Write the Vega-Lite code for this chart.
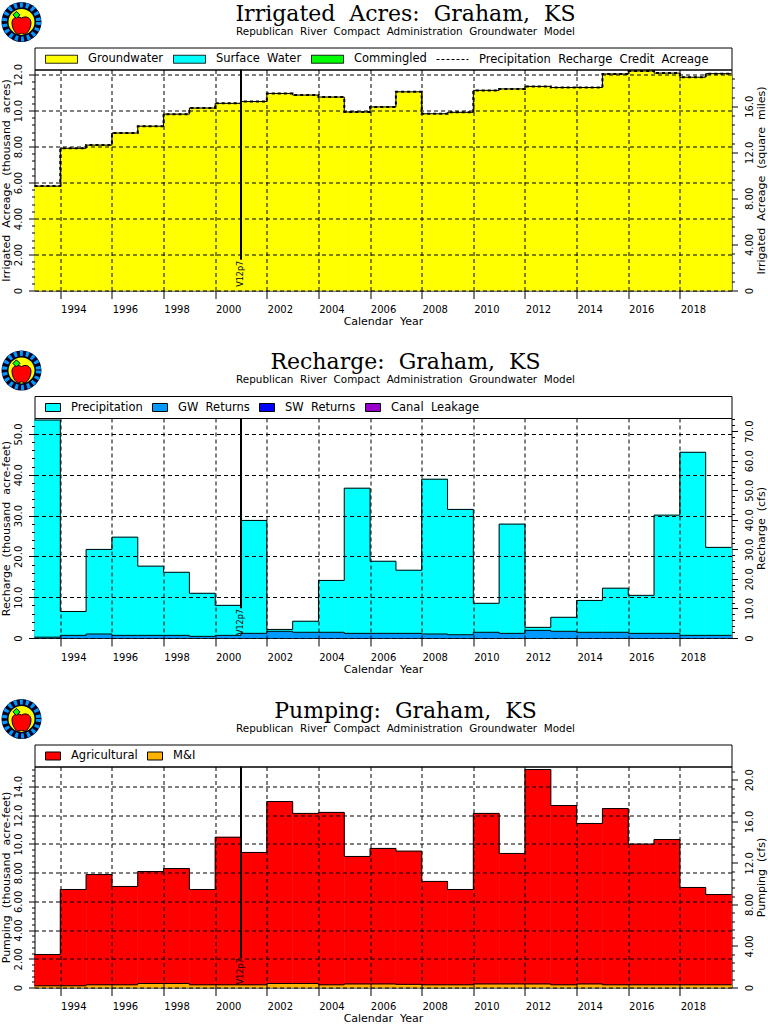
{
  "$schema": "https://vega.github.io/schema/vega-lite/v6.json",
  "background": "white",
  "padding": {"left": -6.5, "top": -6.5, "right": 0, "bottom": 0},
  "config": {
    "font": "DejaVu Sans",
    "view": {"stroke": "black", "strokeWidth": 1},
    "title": {"font": "DejaVu Serif", "fontSize": 22, "fontWeight": "normal", "color": "black", "subtitleFont": "DejaVu Sans", "subtitleFontSize": 10.4, "subtitleColor": "black", "subtitlePadding": 1},
    "axis": {"grid": true, "gridColor": "black", "gridDash": [4, 3], "gridOpacity": 1, "domain": false, "tickColor": "black", "labelColor": "black", "titleColor": "black", "labelFont": "DejaVu Sans", "titleFont": "DejaVu Sans", "labelFontSize": 10, "titleFontSize": 11, "titleFontWeight": "normal", "labelOverlap": false, "labelFlush": false, "labelBound": false},
    "legend": {"labelFont": "DejaVu Sans", "labelFontSize": 11.5, "labelColor": "black", "labelLimit": 400}
  },
  "datasets": {
    "irrigated": [
      {"year": 1993, "end": 1994, "source": "Groundwater", "kacres": 5.8},
      {"year": 1994, "end": 1995, "source": "Groundwater", "kacres": 7.9},
      {"year": 1995, "end": 1996, "source": "Groundwater", "kacres": 8.08},
      {"year": 1996, "end": 1997, "source": "Groundwater", "kacres": 8.75},
      {"year": 1997, "end": 1998, "source": "Groundwater", "kacres": 9.13},
      {"year": 1998, "end": 1999, "source": "Groundwater", "kacres": 9.8},
      {"year": 1999, "end": 2000, "source": "Groundwater", "kacres": 10.14},
      {"year": 2000, "end": 2001, "source": "Groundwater", "kacres": 10.4},
      {"year": 2001, "end": 2002, "source": "Groundwater", "kacres": 10.5},
      {"year": 2002, "end": 2003, "source": "Groundwater", "kacres": 10.95},
      {"year": 2003, "end": 2004, "source": "Groundwater", "kacres": 10.86},
      {"year": 2004, "end": 2005, "source": "Groundwater", "kacres": 10.75},
      {"year": 2005, "end": 2006, "source": "Groundwater", "kacres": 9.92},
      {"year": 2006, "end": 2007, "source": "Groundwater", "kacres": 10.2},
      {"year": 2007, "end": 2008, "source": "Groundwater", "kacres": 11.04},
      {"year": 2008, "end": 2009, "source": "Groundwater", "kacres": 9.82},
      {"year": 2009, "end": 2010, "source": "Groundwater", "kacres": 9.9},
      {"year": 2010, "end": 2011, "source": "Groundwater", "kacres": 11.12},
      {"year": 2011, "end": 2012, "source": "Groundwater", "kacres": 11.2},
      {"year": 2012, "end": 2013, "source": "Groundwater", "kacres": 11.34},
      {"year": 2013, "end": 2014, "source": "Groundwater", "kacres": 11.28},
      {"year": 2014, "end": 2015, "source": "Groundwater", "kacres": 11.28},
      {"year": 2015, "end": 2016, "source": "Groundwater", "kacres": 12.03},
      {"year": 2016, "end": 2017, "source": "Groundwater", "kacres": 12.2},
      {"year": 2017, "end": 2018, "source": "Groundwater", "kacres": 12.08},
      {"year": 2018, "end": 2019, "source": "Groundwater", "kacres": 11.85},
      {"year": 2019, "end": 2020, "source": "Groundwater", "kacres": 12.05}
    ],
    "credit": [
      {"year": 1993, "kacres": 5.8}, {"year": 1994, "kacres": 7.9}, {"year": 1995, "kacres": 8.08}, {"year": 1996, "kacres": 8.75},
      {"year": 1997, "kacres": 9.13}, {"year": 1998, "kacres": 9.8}, {"year": 1999, "kacres": 10.14}, {"year": 2000, "kacres": 10.4},
      {"year": 2001, "kacres": 10.5}, {"year": 2002, "kacres": 10.95}, {"year": 2003, "kacres": 10.86}, {"year": 2004, "kacres": 10.75},
      {"year": 2005, "kacres": 9.92}, {"year": 2006, "kacres": 10.2}, {"year": 2007, "kacres": 11.04}, {"year": 2008, "kacres": 9.82},
      {"year": 2009, "kacres": 9.9}, {"year": 2010, "kacres": 11.12}, {"year": 2011, "kacres": 11.2}, {"year": 2012, "kacres": 11.34},
      {"year": 2013, "kacres": 11.28}, {"year": 2014, "kacres": 11.28}, {"year": 2015, "kacres": 12.03}, {"year": 2016, "kacres": 12.2},
      {"year": 2017, "kacres": 12.08}, {"year": 2018, "kacres": 11.85}, {"year": 2019, "kacres": 12.05}, {"year": 2020, "kacres": 12.05}
    ],
    "recharge": [
      {"year": 1993, "end": 1994, "source": "GW Returns", "kaf": 0.2}, {"year": 1993, "end": 1994, "source": "Precipitation", "kaf": 53.2},
      {"year": 1994, "end": 1995, "source": "GW Returns", "kaf": 0.65}, {"year": 1994, "end": 1995, "source": "Precipitation", "kaf": 5.85},
      {"year": 1995, "end": 1996, "source": "GW Returns", "kaf": 0.98}, {"year": 1995, "end": 1996, "source": "Precipitation", "kaf": 20.72},
      {"year": 1996, "end": 1997, "source": "GW Returns", "kaf": 0.65}, {"year": 1996, "end": 1997, "source": "Precipitation", "kaf": 24.05},
      {"year": 1997, "end": 1998, "source": "GW Returns", "kaf": 0.65}, {"year": 1997, "end": 1998, "source": "Precipitation", "kaf": 16.95},
      {"year": 1998, "end": 1999, "source": "GW Returns", "kaf": 0.65}, {"year": 1998, "end": 1999, "source": "Precipitation", "kaf": 15.45},
      {"year": 1999, "end": 2000, "source": "GW Returns", "kaf": 0.4}, {"year": 1999, "end": 2000, "source": "Precipitation", "kaf": 10.55},
      {"year": 2000, "end": 2001, "source": "GW Returns", "kaf": 0.65}, {"year": 2000, "end": 2001, "source": "Precipitation", "kaf": 7.35},
      {"year": 2001, "end": 2002, "source": "GW Returns", "kaf": 1.14}, {"year": 2001, "end": 2002, "source": "Precipitation", "kaf": 27.66},
      {"year": 2002, "end": 2003, "source": "GW Returns", "kaf": 1.64}, {"year": 2002, "end": 2003, "source": "Precipitation", "kaf": 0.46},
      {"year": 2003, "end": 2004, "source": "GW Returns", "kaf": 1.4}, {"year": 2003, "end": 2004, "source": "Precipitation", "kaf": 2.7},
      {"year": 2004, "end": 2005, "source": "GW Returns", "kaf": 1.4}, {"year": 2004, "end": 2005, "source": "Precipitation", "kaf": 12.7},
      {"year": 2005, "end": 2006, "source": "GW Returns", "kaf": 1.14}, {"year": 2005, "end": 2006, "source": "Precipitation", "kaf": 35.56},
      {"year": 2006, "end": 2007, "source": "GW Returns", "kaf": 1.14}, {"year": 2006, "end": 2007, "source": "Precipitation", "kaf": 17.66},
      {"year": 2007, "end": 2008, "source": "GW Returns", "kaf": 1.14}, {"year": 2007, "end": 2008, "source": "Precipitation", "kaf": 15.46},
      {"year": 2008, "end": 2009, "source": "GW Returns", "kaf": 0.98}, {"year": 2008, "end": 2009, "source": "Precipitation", "kaf": 37.92},
      {"year": 2009, "end": 2010, "source": "GW Returns", "kaf": 0.8}, {"year": 2009, "end": 2010, "source": "Precipitation", "kaf": 30.7},
      {"year": 2010, "end": 2011, "source": "GW Returns", "kaf": 1.4}, {"year": 2010, "end": 2011, "source": "Precipitation", "kaf": 7.1},
      {"year": 2011, "end": 2012, "source": "GW Returns", "kaf": 1.14}, {"year": 2011, "end": 2012, "source": "Precipitation", "kaf": 26.76},
      {"year": 2012, "end": 2013, "source": "GW Returns", "kaf": 1.87}, {"year": 2012, "end": 2013, "source": "Precipitation", "kaf": 0.73},
      {"year": 2013, "end": 2014, "source": "GW Returns", "kaf": 1.64}, {"year": 2013, "end": 2014, "source": "Precipitation", "kaf": 3.43},
      {"year": 2014, "end": 2015, "source": "GW Returns", "kaf": 1.4}, {"year": 2014, "end": 2015, "source": "Precipitation", "kaf": 7.8},
      {"year": 2015, "end": 2016, "source": "GW Returns", "kaf": 1.4}, {"year": 2015, "end": 2016, "source": "Precipitation", "kaf": 10.8},
      {"year": 2016, "end": 2017, "source": "GW Returns", "kaf": 1.14}, {"year": 2016, "end": 2017, "source": "Precipitation", "kaf": 9.31},
      {"year": 2017, "end": 2018, "source": "GW Returns", "kaf": 1.14}, {"year": 2017, "end": 2018, "source": "Precipitation", "kaf": 28.96},
      {"year": 2018, "end": 2019, "source": "GW Returns", "kaf": 0.65}, {"year": 2018, "end": 2019, "source": "Precipitation", "kaf": 44.85},
      {"year": 2019, "end": 2020, "source": "GW Returns", "kaf": 0.65}, {"year": 2019, "end": 2020, "source": "Precipitation", "kaf": 21.55}
    ],
    "pumping": [
      {"year": 1993, "end": 1994, "source": "M&I", "kaf": 0.12}, {"year": 1993, "end": 1994, "source": "Agricultural", "kaf": 2.18},
      {"year": 1994, "end": 1995, "source": "M&I", "kaf": 0.12}, {"year": 1994, "end": 1995, "source": "Agricultural", "kaf": 6.71},
      {"year": 1995, "end": 1996, "source": "M&I", "kaf": 0.19}, {"year": 1995, "end": 1996, "source": "Agricultural", "kaf": 7.68},
      {"year": 1996, "end": 1997, "source": "M&I", "kaf": 0.19}, {"year": 1996, "end": 1997, "source": "Agricultural", "kaf": 6.85},
      {"year": 1997, "end": 1998, "source": "M&I", "kaf": 0.28}, {"year": 1997, "end": 1998, "source": "Agricultural", "kaf": 7.8},
      {"year": 1998, "end": 1999, "source": "M&I", "kaf": 0.28}, {"year": 1998, "end": 1999, "source": "Agricultural", "kaf": 8.01},
      {"year": 1999, "end": 2000, "source": "M&I", "kaf": 0.19}, {"year": 1999, "end": 2000, "source": "Agricultural", "kaf": 6.64},
      {"year": 2000, "end": 2001, "source": "M&I", "kaf": 0.19}, {"year": 2000, "end": 2001, "source": "Agricultural", "kaf": 10.28},
      {"year": 2001, "end": 2002, "source": "M&I", "kaf": 0.19}, {"year": 2001, "end": 2002, "source": "Agricultural", "kaf": 9.22},
      {"year": 2002, "end": 2003, "source": "M&I", "kaf": 0.28}, {"year": 2002, "end": 2003, "source": "Agricultural", "kaf": 12.68},
      {"year": 2003, "end": 2004, "source": "M&I", "kaf": 0.28}, {"year": 2003, "end": 2004, "source": "Agricultural", "kaf": 11.85},
      {"year": 2004, "end": 2005, "source": "M&I", "kaf": 0.19}, {"year": 2004, "end": 2005, "source": "Agricultural", "kaf": 12.01},
      {"year": 2005, "end": 2006, "source": "M&I", "kaf": 0.25}, {"year": 2005, "end": 2006, "source": "Agricultural", "kaf": 8.88},
      {"year": 2006, "end": 2007, "source": "M&I", "kaf": 0.25}, {"year": 2006, "end": 2007, "source": "Agricultural", "kaf": 9.44},
      {"year": 2007, "end": 2008, "source": "M&I", "kaf": 0.22}, {"year": 2007, "end": 2008, "source": "Agricultural", "kaf": 9.28},
      {"year": 2008, "end": 2009, "source": "M&I", "kaf": 0.19}, {"year": 2008, "end": 2009, "source": "Agricultural", "kaf": 7.2},
      {"year": 2009, "end": 2010, "source": "M&I", "kaf": 0.19}, {"year": 2009, "end": 2010, "source": "Agricultural", "kaf": 6.64},
      {"year": 2010, "end": 2011, "source": "M&I", "kaf": 0.25}, {"year": 2010, "end": 2011, "source": "Agricultural", "kaf": 11.88},
      {"year": 2011, "end": 2012, "source": "M&I", "kaf": 0.25}, {"year": 2011, "end": 2012, "source": "Agricultural", "kaf": 9.09},
      {"year": 2012, "end": 2013, "source": "M&I", "kaf": 0.25}, {"year": 2012, "end": 2013, "source": "Agricultural", "kaf": 14.94},
      {"year": 2013, "end": 2014, "source": "M&I", "kaf": 0.19}, {"year": 2013, "end": 2014, "source": "Agricultural", "kaf": 12.49},
      {"year": 2014, "end": 2015, "source": "M&I", "kaf": 0.25}, {"year": 2014, "end": 2015, "source": "Agricultural", "kaf": 11.18},
      {"year": 2015, "end": 2016, "source": "M&I", "kaf": 0.19}, {"year": 2015, "end": 2016, "source": "Agricultural", "kaf": 12.28},
      {"year": 2016, "end": 2017, "source": "M&I", "kaf": 0.19}, {"year": 2016, "end": 2017, "source": "Agricultural", "kaf": 9.8},
      {"year": 2017, "end": 2018, "source": "M&I", "kaf": 0.19}, {"year": 2017, "end": 2018, "source": "Agricultural", "kaf": 10.12},
      {"year": 2018, "end": 2019, "source": "M&I", "kaf": 0.19}, {"year": 2018, "end": 2019, "source": "Agricultural", "kaf": 6.78},
      {"year": 2019, "end": 2020, "source": "M&I", "kaf": 0.19}, {"year": 2019, "end": 2020, "source": "Agricultural", "kaf": 6.29}
    ],
    "logoCenter": [{"x": 1992.496, "y": 47.6}],
    "logoApple": [{"x": 1992.496, "y": 44.8}],
    "logoLeaf": [{"x": 1992.3, "y": 54.6}],
    "irrigatedLegend": [{"series": "Groundwater"}, {"series": "Surface \u00a0Water"}, {"series": "Commingled"}, {"series": "Precipitation \u00a0Recharge \u00a0Credit \u00a0Acreage"}],
    "rechargeLegend": [{"series": "Precipitation"}, {"series": "GW \u00a0Returns"}, {"series": "SW \u00a0Returns"}, {"series": "Canal \u00a0Leakage"}],
    "pumpingLegend": [{"series": "Agricultural"}, {"series": "M&I"}]
  },
  "bounds": "flush",
  "spacing": 348.5,
  "resolve": {"scale": {"color": "independent", "stroke": "independent"}},
  "vconcat": [
    {
      "bounds": "flush",
      "spacing": 0,
      "resolve": {"scale": {"color": "independent", "stroke": "independent"}},
      "vconcat": [
        {
          "width": 697,
          "height": 22,
          "title": {"text": "Irrigated \u00a0Acres: \u00a0Graham, \u00a0KS", "subtitle": "Republican \u00a0River \u00a0Compact \u00a0Administration \u00a0Groundwater \u00a0Model", "anchor": "middle", "dx": 22.5, "offset": -43},
          "layer": [
            {
              "data": {"name": "irrigatedLegend"},
              "mark": {"type": "bar", "opacity": 0, "stroke": "black"},
              "encoding": {
                "color": {
                  "field": "series",
                  "scale": {"domain": ["Groundwater", "Surface \u00a0Water", "Commingled", "Precipitation \u00a0Recharge \u00a0Credit \u00a0Acreage"], "range": ["#ffff00", "#00ffff", "#00ff00", "transparent"]},
                  "legend": {
                    "title": null, "orient": "none", "legendX": 10.5, "legendY": -5, "direction": "horizontal", "columns": 4, "padding": 0, "columnPadding": 7, "labelOffset": 10,
                    "symbolSize": 1024, "symbolOpacity": 1, "symbolStrokeColor": "black", "symbolStrokeWidth": 1,
                    "encode": {"symbols": {"update": {
                      "shape": {"signal": "indexof(datum.value, 'Credit') >= 0 ? 'M-1,0H1' : 'M-1,-0.25H1V0.25H-1Z'"},
                      "strokeDash": {"signal": "indexof(datum.value, 'Credit') >= 0 ? [3, 2] : [1, 0]"}
                    }}}
                  }
                }
              }
            },
            {"data": {"name": "logoCenter"}, "mark": {"type": "point", "shape": "circle", "filled": true, "size": 1600, "color": "#000022", "opacity": 1}, "encoding": {"x": {"field": "x", "type": "quantitative", "axis": null, "scale": {"domain": [1993, 2020], "nice": false, "zero": false}}, "y": {"field": "y", "type": "quantitative", "axis": null, "scale": {"domain": [0, 22], "nice": false}}}},
            {"data": {"name": "logoCenter"}, "mark": {"type": "point", "shape": "circle", "filled": false, "size": 1156, "color": "#0099ff", "strokeWidth": 5, "strokeDash": [3, 3], "opacity": 1}, "encoding": {"x": {"field": "x", "type": "quantitative"}, "y": {"field": "y", "type": "quantitative"}}},
            {"data": {"name": "logoCenter"}, "mark": {"type": "point", "shape": "circle", "filled": true, "size": 676, "color": "#ffff00", "opacity": 1}, "encoding": {"x": {"field": "x", "type": "quantitative"}, "y": {"field": "y", "type": "quantitative"}}},
            {"data": {"name": "logoApple"}, "mark": {"type": "point", "shape": "M0,-0.7C0.5,-1,1,-0.7,1,-0.2C1,0.4,0.6,1,0.3,1C0.15,1,0.1,0.9,0,0.9C-0.1,0.9,-0.15,1,-0.3,1C-0.6,1,-1,0.4,-1,-0.2C-1,-0.7,-0.5,-1,0,-0.7Z", "filled": true, "size": 361, "fill": "#ff0000", "stroke": "black", "strokeWidth": 1, "opacity": 1}, "encoding": {"x": {"field": "x", "type": "quantitative"}, "y": {"field": "y", "type": "quantitative"}}},
            {"data": {"name": "logoLeaf"}, "mark": {"type": "point", "shape": "diamond", "filled": true, "size": 50, "fill": "#00ff00", "stroke": "black", "strokeWidth": 1, "opacity": 1}, "encoding": {"x": {"field": "x", "type": "quantitative"}, "y": {"field": "y", "type": "quantitative"}}}
          ]
        },
        {
          "width": 697,
          "height": 221,
          "resolve": {"scale": {"y": "independent"}},
          "layer": [
            {
              "data": {"name": "irrigated"},
              "mark": {"type": "rect", "strokeWidth": 0.6},
              "encoding": {
                "x": {"field": "year", "type": "quantitative", "scale": {"domain": [1993, 2020], "nice": false, "zero": false},
                  "axis": {"zindex": 1, "title": "Calendar \u00a0Year", "values": [1994,1995,1996,1997,1998,1999,2000,2001,2002,2003,2004,2005,2006,2007,2008,2009,2010,2011,2012,2013,2014,2015,2016,2017,2018,2019], "labelExpr": "datum.value % 2 == 0 ? '' + datum.value : ''", "labelOffset": 13, "labelAngle": 0, "labelAlign": "center", "tickSize": 8, "labelPadding": 6, "titlePadding": 1}},
                "x2": {"field": "end"},
                "y": {"field": "kacres", "type": "quantitative", "scale": {"domain": [0, 12.28], "nice": false},
                  "axis": {"zindex": 1, "title": "Irrigated \u00a0Acreage \u00a0(thousand \u00a0acres)", "orient": "left", "values": [0,0.4,0.8,1.2,1.6,2,2.4,2.8,3.2,3.6,4,4.4,4.8,5.2,5.6,6,6.4,6.8,7.2,7.6,8,8.4,8.8,9.2,9.6,10,10.4,10.8,11.2,11.6,12],
                    "labelExpr": "datum.value % 2 == 0 ? (datum.value == 0 ? '0' : format(datum.value, '.3r')) : ''", "labelAngle": 270, "labelAlign": "center", "labelBaseline": "bottom", "labelPadding": 5, "titlePadding": 2,
                    "tickSize": {"condition": {"test": "datum.value % 2 == 0", "value": 6}, "value": 3},
                    "gridOpacity": {"condition": {"test": "datum.value % 2 == 0", "value": 1}, "value": 0}}},
                "y2": {"datum": 0},
                "color": {"field": "source", "legend": null, "scale": {"domain": ["Groundwater"], "range": ["#ffff00"]}},
                "stroke": {"field": "source", "legend": null, "scale": {"domain": ["Groundwater"], "range": ["#ffff00"]}}
              }
            },
            {
              "data": {"name": "irrigated"},
              "transform": [{"fold": ["year", "end"], "as": ["edge", "at_year"]}],
              "mark": {"type": "line", "color": "black", "strokeWidth": 1},
              "encoding": {
                "x": {"field": "at_year", "type": "quantitative"},
                "y": {"field": "kacres", "type": "quantitative", "axis": null, "scale": {"domain": [0, 12.28], "nice": false}},
                "order": null
              }
            },
            {
              "data": {"name": "credit"},
              "mark": {"type": "line", "interpolate": "step-after", "color": "black", "strokeWidth": 2, "strokeDash": [3, 3]},
              "encoding": {
                "x": {"field": "year", "type": "quantitative"},
                "y": {"field": "kacres", "type": "quantitative", "axis": null, "scale": {"domain": [0, 12.28], "nice": false}}
              }
            },
            {
              "data": {"values": [{"year": 2001, "top": 12.28, "bottom": 1.71}]},
              "mark": {"type": "rule", "color": "black", "strokeWidth": 2},
              "encoding": {
                "x": {"field": "year", "type": "quantitative"},
                "y": {"field": "top", "type": "quantitative", "axis": null, "scale": {"domain": [0, 12.28], "nice": false}},
                "y2": {"field": "bottom"}
              }
            },
            {
              "data": {"values": [{"year": 2001, "at": 0.21, "label": "V12p7"}]},
              "mark": {"type": "text", "angle": 270, "align": "left", "baseline": "middle", "fontSize": 8, "color": "black"},
              "encoding": {
                "x": {"field": "year", "type": "quantitative"},
                "y": {"field": "at", "type": "quantitative", "axis": null, "scale": {"domain": [0, 12.28], "nice": false}},
                "text": {"field": "label"}
              }
            },
            {
              "data": {"values": [{"sq_mi": 0}, {"sq_mi": 19.19}]},
              "mark": {"type": "rule", "opacity": 0},
              "encoding": {
                "y": {"field": "sq_mi", "type": "quantitative", "scale": {"domain": [0, 19.19], "nice": false},
                  "axis": {"zindex": 1, "title": "Irrigated \u00a0Acreage \u00a0(square \u00a0miles)", "orient": "right", "grid": false, "values": [0,0.8,1.6,2.4,3.2,4,4.8,5.6,6.4,7.2,8,8.8,9.6,10.4,11.2,12,12.8,13.6,14.4,15.2,16,16.8,17.6,18.4],
                    "labelExpr": "datum.value % 4 == 0 ? (datum.value == 0 ? '0' : format(datum.value, '.3r')) : ''", "labelAngle": 270, "labelAlign": "center", "labelBaseline": "top", "labelPadding": 7, "titlePadding": 1, "titleAngle": 270, "titleBaseline": "top",
                    "tickSize": {"condition": {"test": "datum.value % 4 == 0", "value": 6}, "value": 3}}}
              }
            }
          ]
        }
      ]
    },
    {
      "bounds": "flush",
      "spacing": 0,
      "resolve": {"scale": {"color": "independent", "stroke": "independent"}},
      "vconcat": [
        {
          "width": 697,
          "height": 22,
          "title": {"text": "Recharge: \u00a0Graham, \u00a0KS", "subtitle": "Republican \u00a0River \u00a0Compact \u00a0Administration \u00a0Groundwater \u00a0Model", "anchor": "middle", "dx": 22.5, "offset": -43},
          "layer": [
            {
              "data": {"name": "rechargeLegend"},
              "mark": {"type": "bar", "opacity": 0, "stroke": "black"},
              "encoding": {
                "color": {
                  "field": "series",
                  "scale": {"domain": ["Precipitation", "GW \u00a0Returns", "SW \u00a0Returns", "Canal \u00a0Leakage"], "range": ["#00ffff", "#0099ff", "#0000ff", "#9900cc"]},
                  "legend": {
                    "title": null, "orient": "none", "legendX": 10.5, "legendY": 3.5, "direction": "horizontal", "columns": 4, "padding": 0, "columnPadding": 7, "labelOffset": 10,
                    "symbolSize": 225, "symbolOpacity": 1, "symbolStrokeColor": "black", "symbolStrokeWidth": 1, "symbolType": "M-1,-0.533H1V0.533H-1Z"
                  }
                }
              }
            },
            {"data": {"name": "logoCenter"}, "mark": {"type": "point", "shape": "circle", "filled": true, "size": 1600, "color": "#000022", "opacity": 1}, "encoding": {"x": {"field": "x", "type": "quantitative", "axis": null, "scale": {"domain": [1993, 2020], "nice": false, "zero": false}}, "y": {"field": "y", "type": "quantitative", "axis": null, "scale": {"domain": [0, 22], "nice": false}}}},
            {"data": {"name": "logoCenter"}, "mark": {"type": "point", "shape": "circle", "filled": false, "size": 1156, "color": "#0099ff", "strokeWidth": 5, "strokeDash": [3, 3], "opacity": 1}, "encoding": {"x": {"field": "x", "type": "quantitative"}, "y": {"field": "y", "type": "quantitative"}}},
            {"data": {"name": "logoCenter"}, "mark": {"type": "point", "shape": "circle", "filled": true, "size": 676, "color": "#ffff00", "opacity": 1}, "encoding": {"x": {"field": "x", "type": "quantitative"}, "y": {"field": "y", "type": "quantitative"}}},
            {"data": {"name": "logoApple"}, "mark": {"type": "point", "shape": "M0,-0.7C0.5,-1,1,-0.7,1,-0.2C1,0.4,0.6,1,0.3,1C0.15,1,0.1,0.9,0,0.9C-0.1,0.9,-0.15,1,-0.3,1C-0.6,1,-1,0.4,-1,-0.2C-1,-0.7,-0.5,-1,0,-0.7Z", "filled": true, "size": 361, "fill": "#ff0000", "stroke": "black", "strokeWidth": 1, "opacity": 1}, "encoding": {"x": {"field": "x", "type": "quantitative"}, "y": {"field": "y", "type": "quantitative"}}},
            {"data": {"name": "logoLeaf"}, "mark": {"type": "point", "shape": "diamond", "filled": true, "size": 50, "fill": "#00ff00", "stroke": "black", "strokeWidth": 1, "opacity": 1}, "encoding": {"x": {"field": "x", "type": "quantitative"}, "y": {"field": "y", "type": "quantitative"}}}
          ]
        },
        {
          "width": 697,
          "height": 220,
          "resolve": {"scale": {"y": "independent"}},
          "layer": [
            {
              "data": {"name": "recharge"},
              "transform": [{"stack": "kaf", "groupby": ["year"], "sort": [{"field": "source", "order": "ascending"}], "as": ["low", "high"]}],
              "mark": {"type": "rect", "strokeWidth": 0.6},
              "encoding": {
                "x": {"field": "year", "type": "quantitative", "scale": {"domain": [1993, 2020], "nice": false, "zero": false},
                  "axis": {"zindex": 1, "title": "Calendar \u00a0Year", "values": [1994,1995,1996,1997,1998,1999,2000,2001,2002,2003,2004,2005,2006,2007,2008,2009,2010,2011,2012,2013,2014,2015,2016,2017,2018,2019], "labelExpr": "datum.value % 2 == 0 ? '' + datum.value : ''", "labelOffset": 13, "labelAngle": 0, "labelAlign": "center", "tickSize": 8, "labelPadding": 6, "titlePadding": 1}},
                "x2": {"field": "end"},
                "y": {"field": "high", "type": "quantitative", "scale": {"domain": [0, 53.9], "nice": false},
                  "axis": {"zindex": 1, "title": "Recharge \u00a0(thousand \u00a0acre-feet)", "orient": "left", "values": [0,2,4,6,8,10,12,14,16,18,20,22,24,26,28,30,32,34,36,38,40,42,44,46,48,50,52],
                    "labelExpr": "datum.value % 10 == 0 ? (datum.value == 0 ? '0' : format(datum.value, '.3r')) : ''", "labelAngle": 270, "labelAlign": "center", "labelBaseline": "bottom", "labelPadding": 5, "titlePadding": 2,
                    "tickSize": {"condition": {"test": "datum.value % 10 == 0", "value": 6}, "value": 3},
                    "gridOpacity": {"condition": {"test": "datum.value % 10 == 0", "value": 1}, "value": 0}}},
                "y2": {"field": "low"},
                "color": {"field": "source", "legend": null, "scale": {"domain": ["Precipitation", "GW Returns"], "range": ["#00ffff", "#0099ff"]}},
                "stroke": {"field": "source", "legend": null, "scale": {"domain": ["Precipitation", "GW Returns"], "range": ["#00ffff", "#0099ff"]}}
              }
            },
            {
              "data": {"name": "recharge"},
              "transform": [
                {"stack": "kaf", "groupby": ["year"], "sort": [{"field": "source", "order": "ascending"}], "as": ["low", "high"]},
                {"fold": ["year", "end"], "as": ["edge", "at_year"]}
              ],
              "mark": {"type": "line", "color": "black", "strokeWidth": 1},
              "encoding": {
                "x": {"field": "at_year", "type": "quantitative"},
                "y": {"field": "high", "type": "quantitative", "axis": null, "scale": {"domain": [0, 53.9], "nice": false}},
                "detail": {"field": "source"},
                "order": null
              }
            },
            {
              "data": {"values": [{"year": 2001, "top": 53.9, "bottom": 7.28}]},
              "mark": {"type": "rule", "color": "black", "strokeWidth": 2},
              "encoding": {
                "x": {"field": "year", "type": "quantitative"},
                "y": {"field": "top", "type": "quantitative", "axis": null, "scale": {"domain": [0, 53.9], "nice": false}},
                "y2": {"field": "bottom"}
              }
            },
            {
              "data": {"values": [{"year": 2001, "at": 0.74, "label": "V12p7"}]},
              "mark": {"type": "text", "angle": 270, "align": "left", "baseline": "middle", "fontSize": 8, "color": "black"},
              "encoding": {
                "x": {"field": "year", "type": "quantitative"},
                "y": {"field": "at", "type": "quantitative", "axis": null, "scale": {"domain": [0, 53.9], "nice": false}},
                "text": {"field": "label"}
              }
            },
            {
              "data": {"values": [{"cfs": 0}, {"cfs": 74.44}]},
              "mark": {"type": "rule", "opacity": 0},
              "encoding": {
                "y": {"field": "cfs", "type": "quantitative", "scale": {"domain": [0, 74.44], "nice": false},
                  "axis": {"zindex": 1, "title": "Recharge \u00a0(cfs)", "orient": "right", "grid": false, "values": [0,2,4,6,8,10,12,14,16,18,20,22,24,26,28,30,32,34,36,38,40,42,44,46,48,50,52,54,56,58,60,62,64,66,68,70,72,74],
                    "labelExpr": "datum.value % 10 == 0 ? (datum.value == 0 ? '0' : format(datum.value, '.3r')) : ''", "labelAngle": 270, "labelAlign": "center", "labelBaseline": "top", "labelPadding": 7, "titlePadding": 1, "titleAngle": 270, "titleBaseline": "top",
                    "tickSize": {"condition": {"test": "datum.value % 10 == 0", "value": 6}, "value": 3}}}
              }
            }
          ]
        }
      ]
    },
    {
      "bounds": "flush",
      "spacing": 0,
      "resolve": {"scale": {"color": "independent", "stroke": "independent"}},
      "vconcat": [
        {
          "width": 697,
          "height": 22,
          "title": {"text": "Pumping: \u00a0Graham, \u00a0KS", "subtitle": "Republican \u00a0River \u00a0Compact \u00a0Administration \u00a0Groundwater \u00a0Model", "anchor": "middle", "dx": 22.5, "offset": -43},
          "layer": [
            {
              "data": {"name": "pumpingLegend"},
              "mark": {"type": "bar", "opacity": 0, "stroke": "black"},
              "encoding": {
                "color": {
                  "field": "series",
                  "scale": {"domain": ["Agricultural", "M&I"], "range": ["#ff0000", "#ffb300"]},
                  "legend": {
                    "title": null, "orient": "none", "legendX": 10.5, "legendY": 3.5, "direction": "horizontal", "columns": 2, "padding": 0, "columnPadding": 7, "labelOffset": 10,
                    "symbolSize": 225, "symbolOpacity": 1, "symbolStrokeColor": "black", "symbolStrokeWidth": 1, "symbolType": "M-1,-0.533H1V0.533H-1Z"
                  }
                }
              }
            },
            {"data": {"name": "logoCenter"}, "mark": {"type": "point", "shape": "circle", "filled": true, "size": 1600, "color": "#000022", "opacity": 1}, "encoding": {"x": {"field": "x", "type": "quantitative", "axis": null, "scale": {"domain": [1993, 2020], "nice": false, "zero": false}}, "y": {"field": "y", "type": "quantitative", "axis": null, "scale": {"domain": [0, 22], "nice": false}}}},
            {"data": {"name": "logoCenter"}, "mark": {"type": "point", "shape": "circle", "filled": false, "size": 1156, "color": "#0099ff", "strokeWidth": 5, "strokeDash": [3, 3], "opacity": 1}, "encoding": {"x": {"field": "x", "type": "quantitative"}, "y": {"field": "y", "type": "quantitative"}}},
            {"data": {"name": "logoCenter"}, "mark": {"type": "point", "shape": "circle", "filled": true, "size": 676, "color": "#ffff00", "opacity": 1}, "encoding": {"x": {"field": "x", "type": "quantitative"}, "y": {"field": "y", "type": "quantitative"}}},
            {"data": {"name": "logoApple"}, "mark": {"type": "point", "shape": "M0,-0.7C0.5,-1,1,-0.7,1,-0.2C1,0.4,0.6,1,0.3,1C0.15,1,0.1,0.9,0,0.9C-0.1,0.9,-0.15,1,-0.3,1C-0.6,1,-1,0.4,-1,-0.2C-1,-0.7,-0.5,-1,0,-0.7Z", "filled": true, "size": 361, "fill": "#ff0000", "stroke": "black", "strokeWidth": 1, "opacity": 1}, "encoding": {"x": {"field": "x", "type": "quantitative"}, "y": {"field": "y", "type": "quantitative"}}},
            {"data": {"name": "logoLeaf"}, "mark": {"type": "point", "shape": "diamond", "filled": true, "size": 50, "fill": "#00ff00", "stroke": "black", "strokeWidth": 1, "opacity": 1}, "encoding": {"x": {"field": "x", "type": "quantitative"}, "y": {"field": "y", "type": "quantitative"}}}
          ]
        },
        {
          "width": 697,
          "height": 221,
          "resolve": {"scale": {"y": "independent"}},
          "layer": [
            {
              "data": {"name": "pumping"},
              "transform": [{"stack": "kaf", "groupby": ["year"], "sort": [{"field": "source", "order": "descending"}], "as": ["low", "high"]}],
              "mark": {"type": "rect", "strokeWidth": 0.6},
              "encoding": {
                "x": {"field": "year", "type": "quantitative", "scale": {"domain": [1993, 2020], "nice": false, "zero": false},
                  "axis": {"zindex": 1, "title": "Calendar \u00a0Year", "values": [1994,1995,1996,1997,1998,1999,2000,2001,2002,2003,2004,2005,2006,2007,2008,2009,2010,2011,2012,2013,2014,2015,2016,2017,2018,2019], "labelExpr": "datum.value % 2 == 0 ? '' + datum.value : ''", "labelOffset": 13, "labelAngle": 0, "labelAlign": "center", "tickSize": 8, "labelPadding": 6, "titlePadding": 1}},
                "x2": {"field": "end"},
                "y": {"field": "high", "type": "quantitative", "scale": {"domain": [0, 15.4], "nice": false},
                  "axis": {"zindex": 1, "title": "Pumping \u00a0(thousand \u00a0acre-feet)", "orient": "left", "values": [0,0.4,0.8,1.2,1.6,2,2.4,2.8,3.2,3.6,4,4.4,4.8,5.2,5.6,6,6.4,6.8,7.2,7.6,8,8.4,8.8,9.2,9.6,10,10.4,10.8,11.2,11.6,12,12.4,12.8,13.2,13.6,14,14.4,14.8,15.2],
                    "labelExpr": "datum.value % 2 == 0 ? (datum.value == 0 ? '0' : format(datum.value, '.3r')) : ''", "labelAngle": 270, "labelAlign": "center", "labelBaseline": "bottom", "labelPadding": 5, "titlePadding": 2,
                    "tickSize": {"condition": {"test": "datum.value % 2 == 0", "value": 6}, "value": 3},
                    "gridOpacity": {"condition": {"test": "datum.value % 2 == 0", "value": 1}, "value": 0}}},
                "y2": {"field": "low"},
                "color": {"field": "source", "legend": null, "scale": {"domain": ["Agricultural", "M&I"], "range": ["#ff0000", "#ffb300"]}},
                "stroke": {"field": "source", "legend": null, "scale": {"domain": ["Agricultural", "M&I"], "range": ["#ff0000", "#ffb300"]}}
              }
            },
            {
              "data": {"name": "pumping"},
              "transform": [
                {"stack": "kaf", "groupby": ["year"], "sort": [{"field": "source", "order": "descending"}], "as": ["low", "high"]},
                {"fold": ["year", "end"], "as": ["edge", "at_year"]}
              ],
              "mark": {"type": "line", "color": "black", "strokeWidth": 1},
              "encoding": {
                "x": {"field": "at_year", "type": "quantitative"},
                "y": {"field": "high", "type": "quantitative", "axis": null, "scale": {"domain": [0, 15.4], "nice": false}},
                "detail": {"field": "source"},
                "order": null
              }
            },
            {
              "data": {"values": [{"year": 2001, "top": 15.4, "bottom": 2.06}]},
              "mark": {"type": "rule", "color": "black", "strokeWidth": 2},
              "encoding": {
                "x": {"field": "year", "type": "quantitative"},
                "y": {"field": "top", "type": "quantitative", "axis": null, "scale": {"domain": [0, 15.4], "nice": false}},
                "y2": {"field": "bottom"}
              }
            },
            {
              "data": {"values": [{"year": 2001, "at": 0.23, "label": "V12p7"}]},
              "mark": {"type": "text", "angle": 270, "align": "left", "baseline": "middle", "fontSize": 8, "color": "black"},
              "encoding": {
                "x": {"field": "year", "type": "quantitative"},
                "y": {"field": "at", "type": "quantitative", "axis": null, "scale": {"domain": [0, 15.4], "nice": false}},
                "text": {"field": "label"}
              }
            },
            {
              "data": {"values": [{"cfs": 0}, {"cfs": 21.27}]},
              "mark": {"type": "rule", "opacity": 0},
              "encoding": {
                "y": {"field": "cfs", "type": "quantitative", "scale": {"domain": [0, 21.27], "nice": false},
                  "axis": {"zindex": 1, "title": "Pumping \u00a0(cfs)", "orient": "right", "grid": false, "values": [0,0.8,1.6,2.4,3.2,4,4.8,5.6,6.4,7.2,8,8.8,9.6,10.4,11.2,12,12.8,13.6,14.4,15.2,16,16.8,17.6,18.4,19.2,20,20.8],
                    "labelExpr": "datum.value % 4 == 0 ? (datum.value == 0 ? '0' : format(datum.value, '.3r')) : ''", "labelAngle": 270, "labelAlign": "center", "labelBaseline": "top", "labelPadding": 7, "titlePadding": 1, "titleAngle": 270, "titleBaseline": "top",
                    "tickSize": {"condition": {"test": "datum.value % 4 == 0", "value": 6}, "value": 3}}}
              }
            }
          ]
        }
      ]
    }
  ]
}
